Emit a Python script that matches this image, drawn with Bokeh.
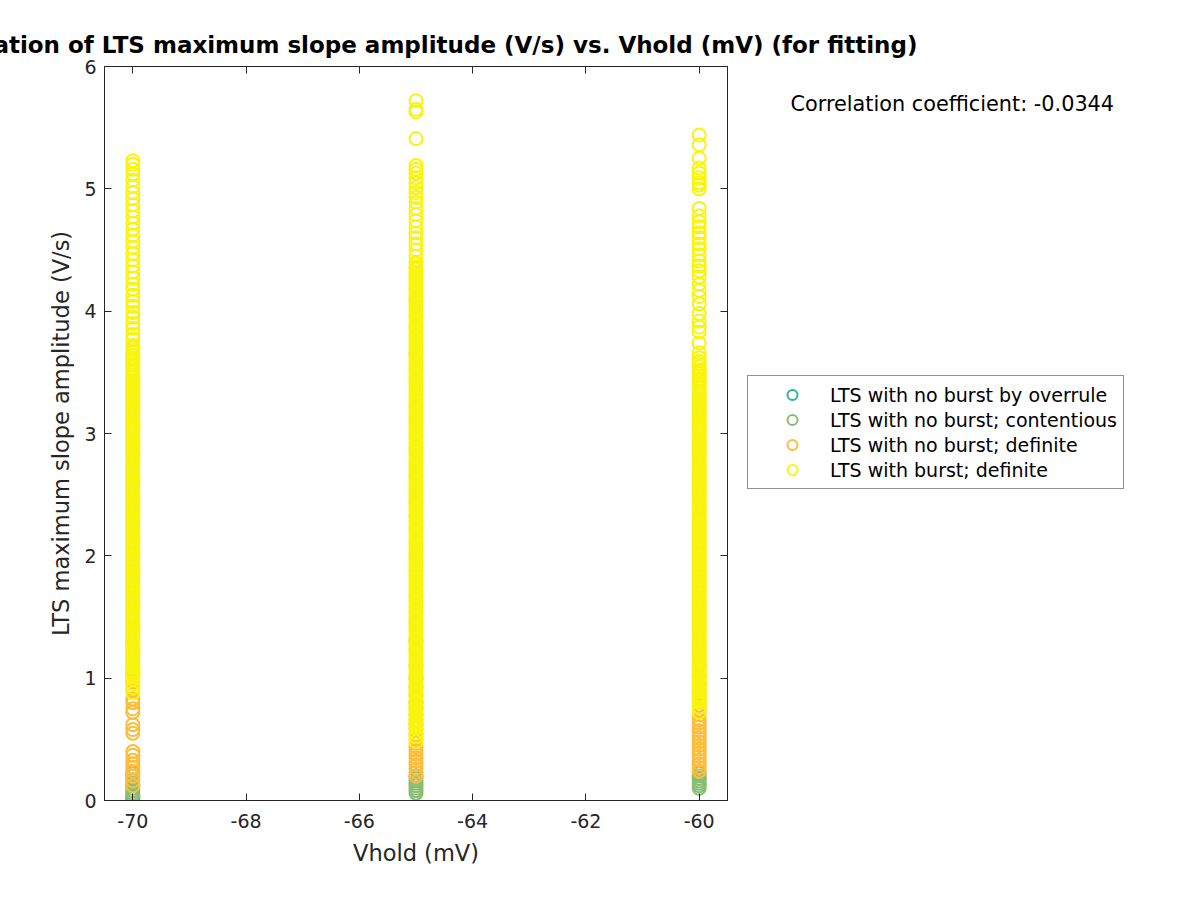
from bokeh.plotting import figure
from bokeh.models import (Label, Legend, LegendItem, LinearAxis, FixedTicker,
                          Range1d, CustomJSTickFormatter)
from bokeh.layouts import row
from bokeh.embed import file_html
from bokeh.resources import INLINE

# ---------------- data ----------------
vhold_levels = [-70, -65, -60]
x_ticks = [-70, -68, -66, -64, -62, -60]
y_ticks = [0, 1, 2, 3, 4, 5, 6]

series_names = ["LTS with no burst by overrule",
                "LTS with no burst; contentious",
                "LTS with no burst; definite",
                "LTS with burst; definite"]
series_colors = ["#2db5a0", "#88bd72", "#fdbc3c", "#f8f40f"]

# LTS with no burst by overrule
ovr_m70 = [0.02, 0.03]
ovr_m65 = []
ovr_m60 = []

# LTS with no burst; contentious
con_m70 = [0.04, 0.06, 0.08, 0.10, 0.12, 0.14, 0.17, 0.20, 0.22]
con_m65 = [0.06, 0.08, 0.10, 0.12, 0.14, 0.16, 0.18, 0.20]
con_m60 = [0.10, 0.12, 0.14, 0.16, 0.18, 0.20, 0.22]

# LTS with no burst; definite
nob_m70 = [0.12, 0.16, 0.20, 0.24, 0.27, 0.30, 0.33, 0.37, 0.40, 0.55,
           0.58, 0.62, 0.72, 0.75, 0.80, 0.83, 0.90, 0.97, 1.05, 1.30]
nob_m65 = [0.20, 0.23, 0.26, 0.29, 0.32, 0.35, 0.38, 0.41, 0.44, 0.47,
           0.50, 0.54, 0.58, 0.62, 0.66, 0.70, 0.75, 0.80, 0.86, 0.93,
           1.00, 1.10, 1.30]
nob_m60 = [0.24, 0.27, 0.30, 0.33, 0.36, 0.39, 0.42, 0.45, 0.48, 0.51,
           0.54, 0.57, 0.60, 0.63, 0.66, 0.70, 0.74, 0.78, 0.83, 0.88,
           0.95, 1.02, 1.10]

# LTS with burst; definite
bur_m70 = [0.88, 0.92, 0.95, 0.99, 1.03, 1.06, 1.10, 1.13, 1.17, 1.21,
           1.24, 1.28, 1.31, 1.35, 1.39, 1.42, 1.46, 1.50, 1.53, 1.57,
           1.61, 1.64, 1.68, 1.72, 1.75, 1.79, 1.83, 1.86, 1.90, 1.94,
           1.97, 2.01, 2.05, 2.08, 2.12, 2.16, 2.19, 2.23, 2.27, 2.30,
           2.34, 2.38, 2.41, 2.45, 2.49, 2.52, 2.56, 2.60, 2.63, 2.67,
           2.71, 2.74, 2.78, 2.82, 2.85, 2.89, 2.93, 2.96, 3.00, 3.04,
           3.07, 3.11, 3.15, 3.18, 3.22, 3.26, 3.29, 3.33, 3.37, 3.40,
           3.44, 3.48, 3.52, 3.56, 3.60, 3.64, 3.68, 3.72, 3.77, 3.81,
           3.86, 3.90, 3.95, 3.99, 4.04, 4.08, 4.13, 4.18, 4.22, 4.27,
           4.32, 4.37, 4.42, 4.47, 4.52, 4.57, 4.62, 4.67, 4.72, 4.77,
           4.82, 4.87, 4.92, 4.97, 5.02, 5.07, 5.12, 5.16, 5.20, 5.23]
bur_m70_dense = [1.01, 1.045, 1.08, 1.115, 1.15, 1.19, 1.225, 1.26, 1.295,
                 1.33, 1.37, 1.405, 1.44, 1.48, 1.515, 1.55, 1.59, 1.625,
                 1.66, 1.70, 1.735, 1.77, 1.81, 1.845, 1.88, 1.92, 1.955,
                 1.99, 2.03, 2.065, 2.10, 2.14, 2.175, 2.21, 2.25, 2.285,
                 2.32, 2.36, 2.395, 2.43, 2.47, 2.505, 2.54, 2.58, 2.615,
                 2.65, 2.69, 2.725, 2.76, 2.80, 2.835, 2.87, 2.91, 2.945,
                 2.98, 3.02, 3.055, 3.09, 3.13, 3.165, 3.20, 3.24, 3.275,
                 3.31, 3.35, 3.385, 3.42, 3.46, 3.50, 3.54, 3.58, 3.62,
                 3.66, 3.70]
bur_m65 = [0.48, 0.52, 0.55, 0.59, 0.62, 0.66, 0.70, 0.73, 0.77, 0.80,
           0.84, 0.88, 0.91, 0.95, 0.99, 1.02, 1.06, 1.10, 1.13, 1.17,
           1.21, 1.24, 1.28, 1.32, 1.35, 1.39, 1.43, 1.46, 1.50, 1.54,
           1.57, 1.61, 1.65, 1.68, 1.72, 1.76, 1.79, 1.83, 1.87, 1.90,
           1.94, 1.98, 2.01, 2.05, 2.09, 2.12, 2.16, 2.20, 2.23, 2.27,
           2.31, 2.34, 2.38, 2.42, 2.45, 2.49, 2.53, 2.56, 2.60, 2.64,
           2.67, 2.71, 2.75, 2.78, 2.82, 2.86, 2.89, 2.93, 2.97, 3.00,
           3.04, 3.08, 3.11, 3.15, 3.19, 3.22, 3.26, 3.30, 3.33, 3.37,
           3.41, 3.44, 3.48, 3.52, 3.55, 3.59, 3.63, 3.66, 3.70, 3.74,
           3.77, 3.81, 3.85, 3.88, 3.92, 3.96, 3.99, 4.03, 4.07, 4.10,
           4.14, 4.18, 4.21, 4.25, 4.29, 4.32, 4.36, 4.40, 4.45, 4.50,
           4.55, 4.60, 4.64, 4.69, 4.74, 4.79, 4.84, 4.89, 4.93, 4.97,
           5.01, 5.05, 5.09, 5.13, 5.16, 5.19, 5.41, 5.63, 5.65, 5.72]
bur_m65_dense = [0.605, 0.64, 0.68, 0.715, 0.75, 0.785, 0.82, 0.86, 0.895,
                 0.93, 0.97, 1.005, 1.04, 1.08, 1.115, 1.15, 1.19, 1.225,
                 1.26, 1.30, 1.335, 1.37, 1.41, 1.445, 1.48, 1.52, 1.555,
                 1.59, 1.63, 1.665, 1.70, 1.74, 1.775, 1.81, 1.85, 1.885,
                 1.92, 1.96, 1.995, 2.03, 2.07, 2.105, 2.14, 2.18, 2.215,
                 2.25, 2.29, 2.325, 2.36, 2.40, 2.435, 2.47, 2.51, 2.545,
                 2.58, 2.62, 2.655, 2.69, 2.73, 2.765, 2.80, 2.84, 2.875,
                 2.91, 2.95, 2.985, 3.02, 3.06, 3.095, 3.13, 3.17, 3.205,
                 3.24, 3.28, 3.315, 3.35, 3.39, 3.425, 3.46, 3.50, 3.535,
                 3.57, 3.61, 3.645, 3.68, 3.72, 3.755, 3.79, 3.83, 3.865,
                 3.90, 3.94, 3.975, 4.01, 4.05, 4.085, 4.12, 4.16, 4.195,
                 4.23, 4.27, 4.305, 4.34, 4.38]
bur_m60 = [0.72, 0.76, 0.80, 0.84, 0.87, 0.91, 0.95, 0.98, 1.02, 1.06,
           1.09, 1.13, 1.17, 1.20, 1.24, 1.28, 1.31, 1.35, 1.39, 1.42,
           1.46, 1.50, 1.53, 1.57, 1.61, 1.64, 1.68, 1.72, 1.75, 1.79,
           1.83, 1.86, 1.90, 1.94, 1.97, 2.01, 2.05, 2.08, 2.12, 2.16,
           2.19, 2.23, 2.27, 2.30, 2.34, 2.38, 2.41, 2.45, 2.49, 2.52,
           2.56, 2.60, 2.63, 2.67, 2.71, 2.74, 2.78, 2.82, 2.85, 2.89,
           2.93, 2.96, 3.00, 3.04, 3.07, 3.11, 3.15, 3.18, 3.22, 3.26,
           3.29, 3.33, 3.37, 3.41, 3.45, 3.49, 3.52, 3.57, 3.62, 3.66,
           3.74, 3.83, 3.87, 3.92, 3.98, 4.06, 4.12, 4.17, 4.22, 4.28,
           4.33, 4.37, 4.41, 4.46, 4.51, 4.55, 4.60, 4.64, 4.69, 4.73,
           4.78, 4.84, 5.00, 5.03, 5.05, 5.09, 5.13, 5.17, 5.25, 5.36,
           5.44]
bur_m60_dense = [0.82, 0.855, 0.89, 0.93, 0.965, 1.00, 1.04, 1.075, 1.11,
                 1.15, 1.185, 1.22, 1.26, 1.295, 1.33, 1.37, 1.405, 1.44,
                 1.48, 1.515, 1.55, 1.59, 1.625, 1.66, 1.70, 1.735, 1.77,
                 1.81, 1.845, 1.88, 1.92, 1.955, 1.99, 2.03, 2.065, 2.10,
                 2.14, 2.175, 2.21, 2.25, 2.285, 2.32, 2.36, 2.395, 2.43,
                 2.47, 2.505, 2.54, 2.58, 2.615, 2.65, 2.69, 2.725, 2.76,
                 2.80, 2.835, 2.87, 2.91, 2.945, 2.98, 3.02, 3.055, 3.09,
                 3.13, 3.165, 3.20, 3.24, 3.275, 3.31, 3.35, 3.39, 3.43,
                 3.47, 3.505, 3.545, 3.59]

groups = [
    [ovr_m70, ovr_m65, ovr_m60],
    [con_m70, con_m65, con_m60],
    [nob_m70, nob_m65, nob_m60],
    [bur_m70 + bur_m70_dense, bur_m65 + bur_m65_dense,
     bur_m60 + bur_m60_dense],
]

title_text = ("Correlation of LTS maximum slope amplitude (V/s) vs. "
              "Vhold (mV) (for fitting)")
corr_text = "Correlation coefficient: -0.0344"
x_label = "Vhold (mV)"
y_label = "LTS maximum slope amplitude (V/s)"

# ---------------- main figure ----------------
FONT = "DejaVu Sans"
AX = "#262626"
W, H = 1196, 896
FL, FR, FT, FB = 104, 727, 66, 800   # frame edges in page pixels

p = figure(width=W, height=H, output_backend="svg",
           toolbar_location=None,
           x_range=Range1d(-70.5, -59.5), y_range=Range1d(0, 6),
           min_border_left=FL, min_border_right=W - FR,
           min_border_top=FT, min_border_bottom=H - FB,
           x_axis_label=x_label, y_axis_label=y_label)
p.background_fill_color = "white"
p.border_fill_color = "white"
p.outline_line_color = AX
p.outline_line_width = 1
p.grid.visible = False

p.title.text = title_text
p.title.align = "center"
p.title.text_font = FONT
p.title.text_font_size = "23px"
p.title.text_font_style = "bold"
p.title.text_color = "black"
p.title.standoff = 18

fmt = CustomJSTickFormatter(code="return tick.toFixed(0);")

for ax in (p.xaxis[0], p.yaxis[0]):
    ax.major_tick_in = 7
    ax.major_tick_out = 0
    ax.minor_tick_line_color = None
    ax.axis_line_color = AX
    ax.major_tick_line_color = AX
    ax.major_label_text_font = FONT
    ax.major_label_text_font_size = "19px"
    ax.major_label_text_color = AX
    ax.axis_label_text_font = FONT
    ax.axis_label_text_font_size = "22.5px"
    ax.axis_label_text_font_style = "normal"
    ax.axis_label_text_color = AX
    ax.formatter = fmt

p.xaxis[0].ticker = FixedTicker(ticks=x_ticks)
p.yaxis[0].ticker = FixedTicker(ticks=y_ticks)
p.xaxis[0].major_label_standoff = 13
p.xaxis[0].axis_label_standoff = 9
p.yaxis[0].major_label_standoff = 8
p.yaxis[0].axis_label_standoff = 7

top_ax = LinearAxis(ticker=FixedTicker(ticks=x_ticks))
right_ax = LinearAxis(ticker=FixedTicker(ticks=y_ticks))
for ax in (top_ax, right_ax):
    ax.major_tick_in = 7
    ax.major_tick_out = 0
    ax.minor_tick_line_color = None
    ax.axis_line_color = AX
    ax.major_tick_line_color = AX
    ax.major_label_text_font_size = "0px"
    ax.major_label_standoff = 0
p.add_layout(top_ax, "above")
p.add_layout(right_ax, "right")

series_xy = []
for color, cols in zip(series_colors, groups):
    xs, ys = [], []
    for xv, vals in zip(vhold_levels, cols):
        xs.extend([xv] * len(vals))
        ys.extend(vals)
    series_xy.append((xs, ys))
    p.scatter(xs, ys, marker="circle", size=13, fill_color=None,
              line_color=color, line_width=2)

# ------- transparent overlay (legend + correlation text), page pixels -------
q = figure(width=W, height=H, output_backend="svg",
           toolbar_location=None, x_axis_type=None, y_axis_type=None,
           x_range=Range1d(0, W), y_range=Range1d(FB, FT),
           min_border_left=0, min_border_right=0,
           min_border_top=FT, min_border_bottom=H - FB,
           margin=(0, 0, 0, -W))
q.outline_line_color = None
q.background_fill_alpha = 0
q.border_fill_alpha = 0
q.grid.visible = False

# legend proxies: same series (they fall outside this overlay's frame)
legend_renderers = [
    q.scatter(xs, ys, marker="circle", size=13, fill_color=None,
              line_color=c, line_width=2)
    for c, (xs, ys) in zip(series_colors, series_xy)
]

legend = Legend(items=[LegendItem(label=n, renderers=[r])
                       for n, r in zip(series_names, legend_renderers)],
                location=(747, FB - 489), orientation="vertical",
                padding=6, spacing=0, margin=0,
                glyph_width=76, glyph_height=25, label_standoff=0,
                label_text_font=FONT, label_text_font_size="19px",
                label_text_color="black", label_height=25,
                border_line_color=AX, border_line_width=1,
                background_fill_color="white", background_fill_alpha=1)
q.add_layout(legend, "center")

q.add_layout(Label(x=790, y=103, text=corr_text,
                   text_align="left", text_baseline="middle",
                   text_font=FONT, text_font_size="20.8px",
                   text_color="black"))

open("out.html", "w").write(file_html(row(p, q), INLINE))
